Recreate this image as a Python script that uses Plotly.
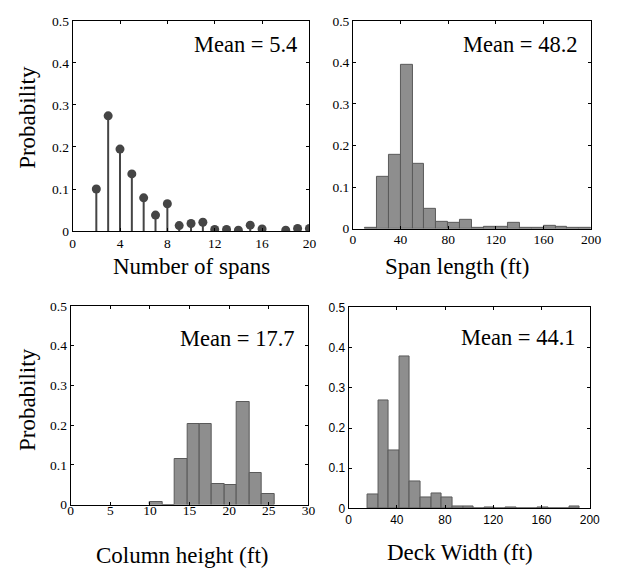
import plotly.graph_objects as go

W, H = 619, 577          # browser window
OX, OY = 8, 8            # default page margin of the html body
FW, FH = W - 2 * OX, H - 2 * OY   # figure size so the page fits the window exactly

# ---- data ----
spans_x = [2, 3, 4, 5, 6, 7, 8, 9, 10, 11, 12, 13, 14, 15, 16, 18, 19, 20]
spans_p = [0.100, 0.274, 0.195, 0.136, 0.079, 0.038, 0.065, 0.013, 0.018, 0.021,
           0.004, 0.004, 0.002, 0.014, 0.005, 0.002, 0.006, 0.006]

span_len_edges = [10, 20, 30, 40, 50, 60, 70, 80, 90, 100, 110, 120, 130, 140, 150,
                  160, 170, 180, 190, 200]
span_len_p = [0.002, 0.124, 0.178, 0.393, 0.156, 0.047, 0.016, 0.014, 0.022, 0.002,
              0.005, 0.004, 0.014, 0.001, 0.002, 0.007, 0.005, 0.002, 0.002]

col_edges = [10.0, 11.57, 13.14, 14.71, 16.28, 17.85, 19.42, 20.99, 22.56, 24.13, 25.7]
col_p = [0.006, 0.0, 0.114, 0.204, 0.204, 0.053, 0.048, 0.258, 0.080, 0.027]

deck_edges = [15.7 + 8.81 * k for k in range(21)]
deck_p = [0.035, 0.269, 0.144, 0.377, 0.067, 0.028, 0.038, 0.027, 0.005, 0.005,
          0.0, 0.003, 0.0, 0.003, 0.0, 0.0, 0.003, 0.0, 0.0, 0.005]

means = ["Mean = 5.4", "Mean = 48.2", "Mean = 17.7", "Mean = 44.1"]
xtitles = ["Number of spans", "Span length (ft)", "Column height (ft)", "Deck Width (ft)"]
ytitle = "Probability"

SERIF = "Liberation Serif"
SANS = "Liberation Sans"
BAR_FILL = "#8e8e8e"
BAR_EDGE = "#5a5a5a"
STEM = "#454545"


def centers(edges):
    return [(a + b) / 2 for a, b in zip(edges[:-1], edges[1:])]


def widths(edges):
    return [b - a for a, b in zip(edges[:-1], edges[1:])]


def fx(px):
    return (px - OX) / FW


def fy(py):
    return 1 - (py - OY) / FH


fig = go.Figure()

# panel 1: stems
fig.add_trace(go.Scatter(
    x=spans_x, y=spans_p, mode="markers", xaxis="x", yaxis="y",
    marker=dict(color=STEM, size=9),
    error_y=dict(type="data", symmetric=False, array=[0] * len(spans_p),
                 arrayminus=spans_p, color=STEM, thickness=2, width=0),
    showlegend=False))

for edges, p, xa, ya in [(span_len_edges, span_len_p, "x2", "y2"),
                         (col_edges, col_p, "x3", "y3"),
                         (deck_edges, deck_p, "x4", "y4")]:
    fig.add_trace(go.Bar(
        x=centers(edges), y=p, width=widths(edges), xaxis=xa, yaxis=ya,
        marker=dict(color=BAR_FILL, line=dict(color=BAR_EDGE, width=1)),
        showlegend=False))

# plot boxes in window pixels: (left, right, top, bottom)
boxes = [(71, 313, 14, 230), (357.5, 601, 14, 227.5),
         (69, 312, 307, 511), (353, 599.5, 308.5, 515)]
xranges = [[0, 20], [0, 200], [0, 30], [0, 200]]
xdticks = [4, 40, 5, 40]
tickfonts = [(SERIF, 13.5), (SERIF, 13.5), (SERIF, 13.5), (SANS, 12)]
xstandoff = [0, -2, -7, 0]

axis_common = dict(showline=True, linecolor="black", linewidth=1, mirror="ticks",
                   ticks="inside", ticklen=3, tickcolor="black", showgrid=False,
                   zeroline=False)

for i in range(4):
    n = "" if i == 0 else str(i + 1)
    l, r, t, b = boxes[i]
    fam, sz = tickfonts[i]
    fig.update_layout(**{
        f"xaxis{n}": dict(domain=[fx(l), fx(r)], range=xranges[i], dtick=xdticks[i], tick0=0,
                          anchor=f"y{n}", tickfont=dict(family=fam, size=sz, color="black"),
                          ticklabelstandoff=xstandoff[i], **axis_common),
        f"yaxis{n}": dict(domain=[fy(b), fy(t)], range=[0, 0.5], dtick=0.1, tick0=0,
                          anchor=f"x{n}", tickfont=dict(family=fam, size=sz, color="black"),
                          ticklabelstandoff=0, **axis_common),
    })

ann = []
mean_pos = [(302, 38), (590, 38), (300, 340), (588, 339)]
for (mx, my), t in zip(mean_pos, means):
    ann.append(dict(text=t, x=fx(mx), y=fy(my), xref="paper", yref="paper",
                    xanchor="right", yanchor="middle", showarrow=False,
                    font=dict(family=SERIF, size=22.5, color="black")))
title_pos = [(192, 266), (464, 266), (183, 563), (467, 560)]
for (tx, ty), t in zip(title_pos, xtitles):
    ann.append(dict(text=t, x=fx(tx), y=fy(ty), xref="paper", yref="paper",
                    xanchor="center", yanchor="middle", showarrow=False,
                    font=dict(family=SERIF, size=23, color="black")))
for cy in [113, 403]:
    ann.append(dict(text=ytitle, x=fx(25), y=fy(cy), xref="paper", yref="paper",
                    xanchor="center", yanchor="middle", showarrow=False, textangle=-90,
                    font=dict(family=SERIF, size=23, color="black")))

fig.update_layout(width=FW, height=FH, margin=dict(l=0, r=0, t=0, b=0),
                  paper_bgcolor="white", plot_bgcolor="white", bargap=0,
                  annotations=ann)

fig.write_html("out.html", config={"displayModeBar": False})
